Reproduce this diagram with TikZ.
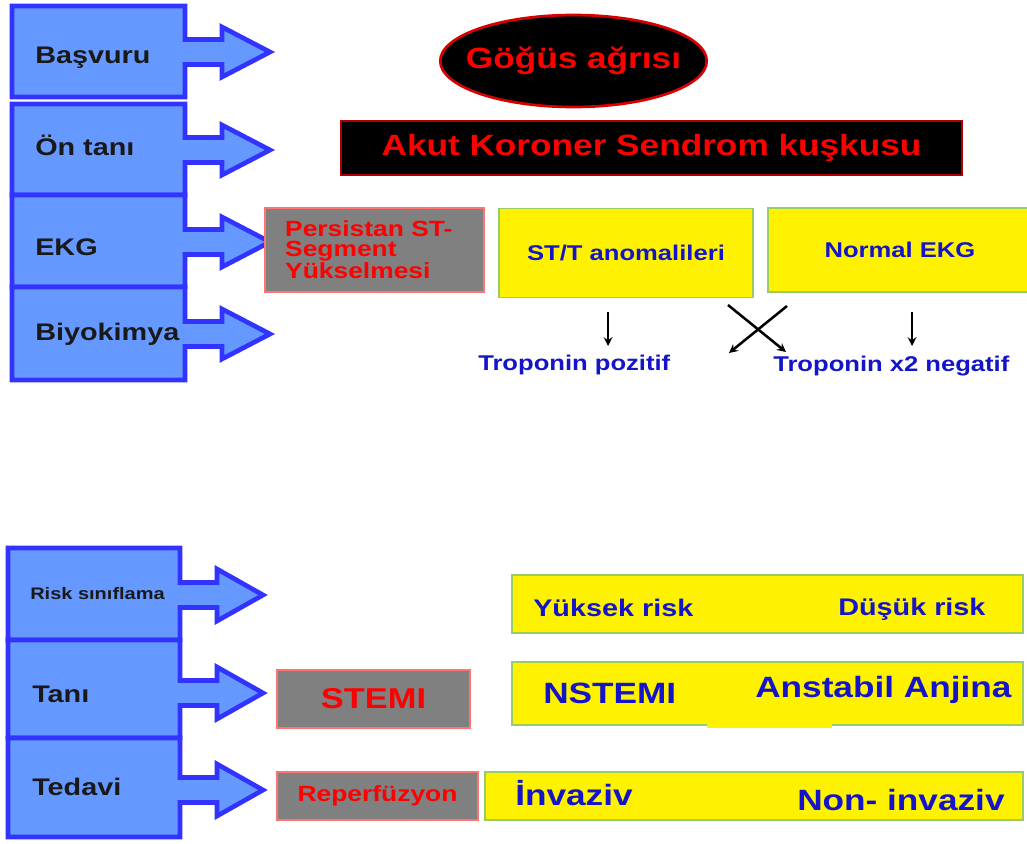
\documentclass[tikz,border=0pt]{standalone}
\usepackage{fontspec}
\setmainfont{Liberation Sans}[FakeStretch=1.2]
\usetikzlibrary{shapes.geometric}
\definecolor{calloutfill}{HTML}{6699FF}
\definecolor{calloutline}{HTML}{3333FF}
\definecolor{ygreen}{HTML}{99CC66}
\definecolor{txtblue}{HTML}{1414C8}
\definecolor{boxgray}{HTML}{808080}
\definecolor{titlered}{HTML}{FF0000}
\begin{document}
\begin{tikzpicture}[x=0.75pt,y=-0.75pt,
    callout/.style={draw=calloutline,fill=calloutfill,line width=3.5pt},
    lbl/.style={anchor=base west,inner sep=0,text=black!90,
      font=\bfseries\fontsize{18}{21}\selectfont},
    ybox/.style={draw=ygreen,fill=yellow,line width=1.2pt,inner sep=0},
    gbox/.style={draw=red!55,fill=boxgray,line width=0.8pt,inner sep=0,
      text=titlered},
    blk/.style={fill=black,text=titlered,inner sep=0,
      font=\bfseries\fontsize{22}{26}\selectfont},
    btxt/.style={anchor=base west,inner sep=0,text=txtblue,
      font=\bfseries\fontsize{22}{26}\selectfont},
    tarrow/.style={-stealth,line width=1.9pt}]
    \path[use as bounding box,fill=white] (0,0) rectangle (1027,843);
    % upper block: callouts
    \draw[callout] (12,6) -| (185,39.5) -- (222,39.5) -- (222,27) -- (270,52) -- (222,77) -- (222,64.5) -- (185,64.5) |- (12,97) -- cycle;
    \draw[callout] (12,104) -| (185,137.5) -- (222,137.5) -- (222,125) -- (270,150) -- (222,175) -- (222,162.5) -- (185,162.5) |- (12,195) -- cycle;
    \draw[callout] (12,195) -| (185,229.5) -- (222,229.5) -- (222,217) -- (270,242) -- (222,267) -- (222,254.5) -- (185,254.5) |- (12,287) -- cycle;
    \draw[callout] (12,287) -| (185,321.5) -- (222,321.5) -- (222,309) -- (270,334) -- (222,359) -- (222,346.5) -- (185,346.5) |- (12,380) -- cycle;
    \node (basvuru) [lbl] at (35,63) {Başvuru};
    \node (ontani) [lbl] at (35,155) {Ön tanı};
    \node (ekg) [lbl] at (35,255) {EKG};
    \node (biyokimya) [lbl] at (35,340) {Biyokimya};
    % upper block: contents
    \node (gogus) [blk,ellipse,draw=red!85!black,line width=2pt,inner xsep=-10pt,
      minimum width=197pt,minimum height=69pt] at (573.5,61) {Göğüs ağrısı};
    \node (aks) [blk,draw=red!70!black,line width=1.2pt,
      minimum width=465.75pt,minimum height=40.5pt] at (651.5,148) {Akut Koroner Sendrom kuşkusu};
    \node (pst) [gbox,minimum width=164.25pt,minimum height=63pt,
      text width=134pt,align=left,inner xsep=15pt,
      font=\bfseries\fontsize{16.5}{15}\selectfont] at (374.5,250) {Persistan ST-\\Segment\\Yükselmesi};
    \node (stt) [ybox,minimum width=190.5pt,minimum height=66.75pt,text=txtblue,
      font=\bfseries\fontsize{16}{19}\selectfont] at (626,253) {ST/T anomalileri};
    \node (normal) [ybox,minimum width=198pt,minimum height=63pt,text=txtblue,
      font=\bfseries\fontsize{16}{19}\selectfont] at (900,250) {Normal EKG};
    \node (tpoz) [btxt,font=\bfseries\fontsize{16}{19}\selectfont] at (478,370) {Troponin pozitif};
    \node (tneg) [btxt,font=\bfseries\fontsize{16}{19}\selectfont] at (773,371) {Troponin x2 negatif};
    \coordinate (sttdown) at (608,312);
    \coordinate (poztop) at (608,346);
    \coordinate (crossa) at (728,305);
    \coordinate (crossb) at (786,352);
    \coordinate (crossc) at (787,306);
    \coordinate (crossd) at (729,353);
    \coordinate (normdown) at (912,312);
    \coordinate (negtop) at (912,346);
    \draw[tarrow] (sttdown) -- (poztop);
    \draw[tarrow] (crossa) -- (crossb);
    \draw[tarrow] (crossc) -- (crossd);
    \draw[tarrow] (normdown) -- (negtop);
    % lower block: callouts
    \draw[callout] (8,548) -| (180,582.5) -- (217,582.5) -- (217,569) -- (263,595) -- (217,621) -- (217,607.5) -- (180,607.5) |- (8,640) -- cycle;
    \draw[callout] (8,640) -| (180,680.5) -- (217,680.5) -- (217,667) -- (263,693) -- (217,719) -- (217,705.5) -- (180,705.5) |- (8,738) -- cycle;
    \draw[callout] (8,738) -| (180,777.5) -- (217,777.5) -- (217,764) -- (263,790) -- (217,816) -- (217,802.5) -- (180,802.5) |- (8,837) -- cycle;
    \node (risk) [lbl,font=\bfseries\fontsize{12.5}{15}\selectfont] at (30,599) {Risk sınıflama};
    \node (tani) [lbl] at (32,702) {Tanı};
    \node (tedavi) [lbl] at (32,795) {Tedavi};
    % lower block: contents
    \node (stemi) [gbox,minimum width=144.75pt,minimum height=43.5pt,
      font=\bfseries\fontsize{21.5}{25}\selectfont] at (373.5,699) {STEMI};
    \node (reperf) [gbox,minimum width=150.75pt,minimum height=36pt,
      font=\bfseries\fontsize{16.5}{19}\selectfont] at (377.5,796) {Reperfüzyon};
    \node (riskbar) [ybox,minimum width=383.25pt,minimum height=43.5pt] at (767.5,604) {};
    \node (tanibar) [ybox,minimum width=383.25pt,minimum height=47.25pt] at (767.5,693.5) {};
    \fill[yellow] (707,722) rectangle (832,728);
    \node (tedbar) [ybox,minimum width=403.5pt,minimum height=36pt] at (754,796) {};
    \node (yuksek) [btxt,font=\bfseries\fontsize{18}{21}\selectfont] at (533,616) {Yüksek risk};
    \node (dusuk) [btxt,font=\bfseries\fontsize{18}{21}\selectfont] at (838,615) {Düşük risk};
    \node (nstemi) [btxt] at (543,703) {NSTEMI};
    \node (anstabil) [btxt] at (755,697) {Anstabil Anjina};
    \node (invaziv) [btxt] at (515,805) {İnvaziv};
    \node (noninv) [btxt] at (797,810) {Non- invaziv};
  \end{tikzpicture}
\end{document}
